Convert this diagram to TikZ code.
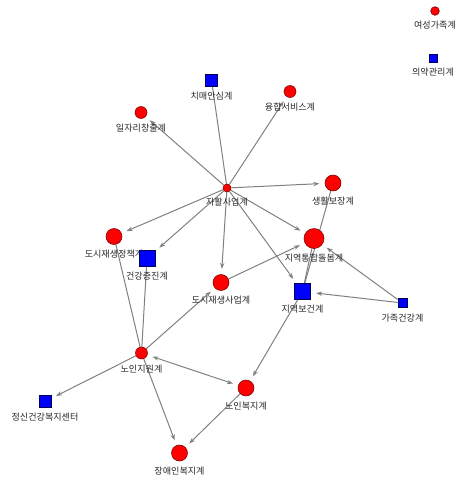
\documentclass[tikz,border=0pt]{standalone}
\usepackage{fontspec}
\newfontfamily\kr{Noto Sans CJK KR}
\usepackage{tikz}
\usetikzlibrary{
    arrows.meta,
    backgrounds,
}

\begin{document}
\begin{tikzpicture}[
        x=0.75pt, y=-0.75pt,
        >={Stealth[length=4.5pt, width=3.2pt]},
        redteam/.style={
            circle, draw=red!45!black, fill=red, inner sep=0pt,
            minimum size=#1
        },
        blueteam/.style={
            rectangle, draw=blue!35!black, fill=blue, inner sep=0pt,
            minimum size=#1
        },
        tag/.style={
            font=\kr\fontsize{6.8}{7.5}\selectfont, text=black!85,
            inner sep=0.5pt, yshift=-3.5pt
        },
        link/.style={gray, line width=0.75pt},
        arrow/.style={->, gray, line width=0.75pt, shorten >=4pt},
        darrow/.style={<->, gray, line width=0.75pt, shorten >=4pt, shorten <=4pt},
    ]

    \useasboundingbox (0,0) rectangle (455,478);

    % ── Isolated ──
    \node[redteam=6.5pt, label={[tag]below:여성가족계}] (yeoseong) at (435,11) {};
    \node[blueteam=6pt, label={[tag]below:의약관리계}] (uiyak) at (433,58) {};

    % ── Upper part ──
    \node[blueteam=9pt, label={[tag]below:치매안심계}] (chimae) at (211.5,80) {};
    \node[redteam=9pt, label={[tag]below:융합서비스계}] (yunghap) at (290,91.5) {};
    \node[redteam=9pt, label={[tag]below:일자리창출계}] (iljari) at (141,112.5) {};
    \node[redteam=6pt, label={[tag]below:자활사업계}] (jahwal) at (227,188) {};
    \node[redteam=12pt, label={[tag]below:생활보장계}] (saenghwal) at (333,183) {};

    % ── Middle part ──
    \node[redteam=12pt, label={[tag]below:도시재생정책계}] (dosijeong) at (114,236.5) {};
    \node[blueteam=12pt, label={[tag]below:건강증진계}] (geongang) at (147,258.5) {};
    \node[redteam=15pt, label={[tag]below:지역통합돌봄계}] (dolbom) at (314,238.5) {};
    \node[redteam=12pt, label={[tag]below:도시재생사업계}] (dosisaup) at (221,282.5) {};
    \node[blueteam=12pt, label={[tag]below:지역보건계}] (bogeon) at (302.5,291.5) {};
    \node[blueteam=7pt, label={[tag]below:가족건강계}] (gajok) at (402.5,303) {};

    % ── Lower part ──
    \node[redteam=9pt, label={[tag]below:노인지원계}] (noin) at (141.5,353) {};
    \node[blueteam=9pt, label={[tag]below:정신건강복지센터}] (jeongsin) at (45,401.5) {};
    \node[redteam=12pt, label={[tag]below:노인복지계}] (noinbok) at (246,388) {};
    \node[redteam=12pt, label={[tag]below:장애인복지계}] (jangae) at (179.5,453) {};

    % ── Links ──
    \begin{scope}[on background layer]
        \draw[arrow] (jahwal) -- (iljari);
        \draw[arrow] (jahwal) -- (yunghap);
        \draw[link] (chimae) -- (jahwal);
        \draw[arrow] (jahwal) -- (saenghwal);
        \draw[arrow] (jahwal) -- (dosijeong);
        \draw[arrow] (jahwal) -- (geongang);
        \draw[arrow] (jahwal) -- (dosisaup);
        \draw[arrow] (jahwal) -- (dolbom);
        \draw[arrow] (jahwal) -- (bogeon);
        \draw[arrow] (dosisaup) -- (dolbom);
        \draw[arrow] (gajok) -- (dolbom);
        \draw[arrow] (gajok) -- (bogeon);
        \draw[link] (bogeon) -- (saenghwal);
        \draw[link] (bogeon) -- (dolbom);
        \draw[arrow] (bogeon) -- (noinbok);
        \draw[darrow] (noin) -- (noinbok);
        \draw[arrow] (noin) -- (jangae);
        \draw[arrow] (noinbok) -- (jangae);
        \draw[arrow] (noin) -- (jeongsin);
        \draw[arrow] (noin) -- (dosisaup);
        \draw[link] (noin) -- (dosijeong);
        \draw[link] (noin) -- (geongang);
    \end{scope}

\end{tikzpicture}
\end{document}
